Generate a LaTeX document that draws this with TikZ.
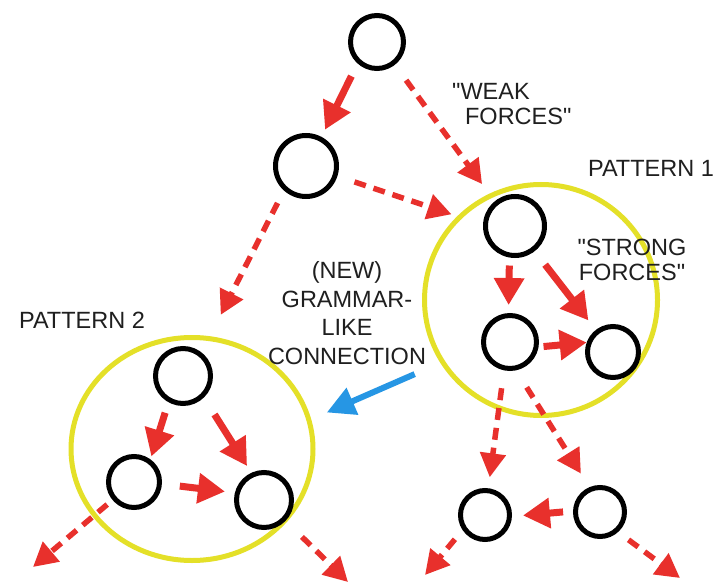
\documentclass[tikz,border=0pt]{standalone}
\usepackage{fontspec}
\setmainfont{Liberation Sans}[Ligatures=TeXOff]
\usetikzlibrary{arrows.meta,shapes.geometric}
\definecolor{ared}{RGB}{232,48,44}
\definecolor{ayel}{RGB}{228,224,40}
\definecolor{ablue}{RGB}{38,150,228}
\tikzset{
  blk/.style={circle,draw=black,line width=5pt,inner sep=0pt,fill=none},
  pat/.style={ellipse,draw=ayel,line width=5pt,inner sep=0pt},
  sarr/.style={draw=ared,line width=7pt,-{Triangle[length=27pt,width=29pt]}},
  darr/.style={draw=ared,line width=5.5pt,dash pattern=on 12pt off 8pt,-{Triangle[length=24pt,width=25pt]}},
  barr/.style={draw=ablue,line width=6pt,-{Triangle[length=28pt,width=28pt]}},
  lbl/.style={inner sep=0pt,font=\fontsize{23.5}{28.5}\selectfont,text=black!88}
}
\begin{document}
\begin{tikzpicture}[x=1pt,y=-1pt]
\useasboundingbox[fill=white] (0,0) rectangle (717,585);
% pattern rings
\node[pat,minimum width=233pt,minimum height=231pt] (P1) at (541,300) {};
\node[pat,minimum width=242pt,minimum height=223pt] (P2) at (192,449) {};
% circles
\node[blk,minimum size=53pt] (A) at (377,42) {};
\node[blk,minimum size=61pt] (B) at (306,166) {};
\node[blk,minimum size=59pt] (C) at (515,226) {};
\node[blk,minimum size=53pt] (D) at (510,342) {};
\node[blk,minimum size=51pt] (E) at (613,352) {};
\node[blk,minimum size=55pt] (F) at (183,376) {};
\node[blk,minimum size=51pt] (G) at (134,482) {};
\node[blk,minimum size=55pt] (H) at (264,500) {};
\node[blk,minimum size=49pt] (I) at (485,515) {};
\node[blk,minimum size=49pt] (J) at (600,512) {};
% free ends
\coordinate (gout) at (33,567);
\coordinate (hout) at (348,582);
\coordinate (iout) at (425,575);
\coordinate (jout) at (680,578);
% labels
\node[lbl,align=left,anchor=west,font=\fontsize{23.5}{24.5}\selectfont] (weak) at (452,104) {"WEAK\\\hspace{0.55em}FORCES"};
\node[lbl] (p1) at (651,168) {PATTERN 1};
\node[lbl,align=center,font=\fontsize{23.5}{25}\selectfont] (strong) at (632,260) {"STRONG\\FORCES"};
\node[lbl,align=center] (gram) at (347,313) {(NEW)\\GRAMMAR-\\LIKE\\CONNECTION};
\node[lbl] (p2) at (82,320) {PATTERN 2};
% top connectors
\draw[sarr,shorten <=14pt,shorten >=8pt] (A.228) -- (B.62);
\draw[darr,shorten <=19pt,shorten >=12pt] (A.308) -- (P1.116);
\draw[darr,shorten <=18pt,shorten >=6pt] (B.342) -- (P1.135);
\draw[darr,shorten <=14pt,shorten >=24pt] (B.228) -- (P2.81);
\draw[barr,shorten <=28pt,shorten >=17pt] (P1.212) -- (P2.14);
% pattern 2
\draw[sarr,shorten <=11pt,shorten >=3pt] (F.241) -- (G.54);
\draw[sarr,shorten <=20pt,shorten >=8pt] (F.314) -- (H.115);
\draw[sarr,shorten <=18pt,shorten >=10pt] (G.356) -- (H.166);
\draw[darr,shorten <=7pt] (G.220) -- (gout);
\draw[darr,shorten <=23pt] (H.316) -- (hout);
% pattern 1
\draw[sarr,shorten <=8pt,shorten >=8pt] (C.260) -- (D.93);
\draw[sarr,shorten <=17pt,shorten >=12pt] (C.308) -- (E.128);
\draw[sarr,shorten <=5pt,shorten >=0pt] (D.350) -- (E.160);
\draw[darr,shorten <=18pt,shorten >=11pt] (D.258) -- (I.83);
\draw[darr,shorten <=20pt,shorten >=16pt] (D.282) -- (J.113);
% bottom pair
\draw[sarr,shorten <=10pt,shorten >=11pt] (J.178) -- (I.357);
\draw[darr,shorten <=12pt] (I.214) -- (iout);
\draw[darr,shorten <=13pt] (J.312) -- (jout);
\end{tikzpicture}
\end{document}
